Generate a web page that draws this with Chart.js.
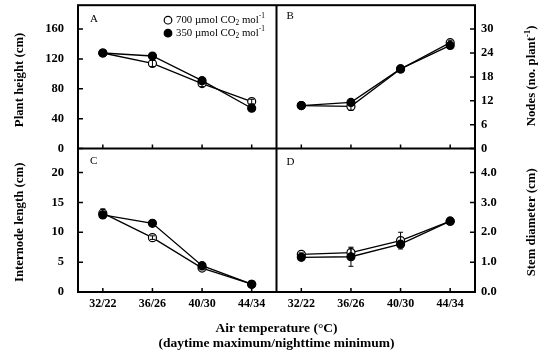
<!DOCTYPE html>
<html><head><meta charset="utf-8">
<script src="https://cdn.jsdelivr.net/npm/chart.js@4"></script>
<style>html,body{margin:0;padding:0;background:#fff}canvas{display:block}</style>
</head><body>
<canvas id="c" width="548" height="356" style="width:548px;height:356px"></canvas>
<script>
// ---- data ----
const categories = ['32/22', '36/26', '40/30', '44/34'];
const heightOpen = [128, 114, 87, 63];
const heightFilled = [128, 124, 91, 54];
const heightErrOpen = [3, 4, 4, 3];
const heightErrFilled = [3, 3, 3, 3];
const nodesOpen = [10.8, 10.6, 20.0, 26.6];
const nodesFilled = [10.8, 11.6, 20.0, 25.9];
const nodesErrOpen = [0.6, 1.0, 0.6, 0.6];
const nodesErrFilled = [0.5, 0.5, 0.5, 0.5];
const internodeOpen = [13.2, 9.1, 4.0, 1.3];
const internodeFilled = [12.9, 11.5, 4.4, 1.3];
const internodeErrOpen = [0.7, 0.3, 0.3, 0.2];
const internodeErrFilled = [0.6, 0.3, 0.3, 0.2];
const diamOpen = [1.26, 1.32, 1.72, 2.37];
const diamFilled = [1.16, 1.18, 1.60, 2.37];
const diamErrOpen = [0.05, 0.15, 0.28, 0.05];
const diamErrFilled = [0.05, 0.32, 0.08, 0.05];
const ticksHeight = [0, 40, 80, 120, 160];
const ticksNodes = [0, 6, 12, 18, 24, 30];
const ticksInternode = [0, 5, 10, 15, 20];
const ticksDiam = [0, 1, 2, 3, 4];
const seriesLabels = ['700 \u00B5mol CO2 mol-1', '350 \u00B5mol CO2 mol-1'];
const panelLetters = ['A', 'B', 'C', 'D'];
const titleHeight = 'Plant height (cm)';
const titleInternode = 'Internode length (cm)';
const titleDiam = 'Stem diameter (cm)';
const titleNodes = 'Nodes (no. plant';
const xTitle1 = 'Air temperature (\u00B0C)';
const xTitle2 = '(daytime maximum/nighttime minimum)';

const SERIF = '"Liberation Serif","Times New Roman",serif';

function ds(label, data, errors, x, y, filled) {
  return {
    label, data, errors, xAxisID: x, yAxisID: y,
    borderColor: '#000', borderWidth: 1.3,
    backgroundColor: filled ? '#000' : '#fff',
    pointBackgroundColor: filled ? '#000' : '#fff',
    pointBorderColor: '#000', pointBorderWidth: 1.2,
    pointRadius: 4, pointHoverRadius: 4, tension: 0, fill: false
  };
}

function fixTicks(arr) {
  return function (scale) { scale.ticks = arr.map(v => ({ value: v })); };
}
function zeroPad(s) {
  s.paddingTop = 0; s.paddingBottom = 0; s.paddingLeft = 0; s.paddingRight = 0;
}

function yScale(pos, stack, weight, min, max, arr, fmt, width) {
  return {
    type: 'linear', position: pos, stack: stack, stackWeight: 1, weight: weight,
    min: min, max: max,
    grid: { display: false, drawTicks: false },
    border: { display: false },
    afterBuildTicks: fixTicks(arr),
    afterFit: s => { s.width = width; zeroPad(s); },
    ticks: {
      autoSkip: false, padding: pos === 'left' ? 14 : 6, color: '#000',
      font: { family: SERIF, size: 12.5, weight: 'bold' },
      callback: v => fmt(v)
    }
  };
}

function xScale(weight) {
  return {
    type: 'category', position: 'bottom', stack: 'B', stackWeight: 1, weight: weight,
    offset: true, labels: categories,
    grid: { display: false, drawTicks: false },
    border: { display: false },
    afterFit: s => { s.height = 64; zeroPad(s); },
    ticks: {
      autoSkip: false, maxRotation: 0, padding: 5, color: '#000',
      font: { family: SERIF, size: 12, weight: 'bold' }
    }
  };
}

function richWidth(ctx, parts, size, bold) {
  let w = 0;
  for (const p of parts) {
    const sz = p.s ? size * 0.68 : size;
    ctx.font = (bold ? 'bold ' : '') + sz + 'px ' + SERIF;
    w += ctx.measureText(p.t).width;
  }
  return w;
}
function drawRich(ctx, parts, x, y, size, bold, align) {
  const w = richWidth(ctx, parts, size, bold);
  let cx = align === 'center' ? x - w / 2 : x;
  ctx.textBaseline = 'middle';
  ctx.textAlign = 'left';
  ctx.fillStyle = '#000';
  for (const p of parts) {
    const sz = p.s ? size * 0.68 : size;
    ctx.font = (bold ? 'bold ' : '') + sz + 'px ' + SERIF;
    const dy = p.s === 'sub' ? size * 0.3 : p.s === 'sup' ? -size * 0.35 : 0;
    ctx.fillText(p.t, cx, y + dy);
    cx += ctx.measureText(p.t).width;
  }
}
function seriesParts(label) {
  const m = label.match(/^(.*CO)2( mol)(-1)$/);
  return [{ t: m[1] }, { t: '2', s: 'sub' }, { t: m[2] }, { t: m[3], s: 'sup' }];
}

const decor = {
  id: 'decor',
  afterDatasetsDraw(chart) {
    const { ctx, chartArea: ca, scales } = chart;
    ctx.save();
    ctx.strokeStyle = '#000';
    ctx.lineWidth = 1;
    chart.data.datasets.forEach(d => {
      const xs = scales[d.xAxisID], ys = scales[d.yAxisID];
      d.data.forEach((v, j) => {
        const e = d.errors[j];
        if (!e) return;
        const x = xs.getPixelForValue(j);
        const y1 = ys.getPixelForValue(v + e), y2 = ys.getPixelForValue(v - e);
        ctx.beginPath();
        ctx.moveTo(x, y1); ctx.lineTo(x, y2);
        ctx.moveTo(x - 2.5, y1); ctx.lineTo(x + 2.5, y1);
        ctx.moveTo(x - 2.5, y2); ctx.lineTo(x + 2.5, y2);
        ctx.stroke();
      });
    });
    const midX = scales.xL.right, midY = scales.yA.bottom;
    ctx.lineWidth = 2;
    ctx.strokeRect(ca.left, ca.top, ca.right - ca.left, ca.bottom - ca.top);
    ctx.beginPath();
    ctx.moveTo(midX, ca.top); ctx.lineTo(midX, ca.bottom);
    ctx.moveTo(ca.left, midY); ctx.lineTo(ca.right, midY);
    ctx.stroke();
    ctx.lineWidth = 1.5;
    ctx.beginPath();
    ['yA', 'yC'].forEach(id => {
      scales[id].ticks.forEach(t => {
        const y = scales[id].getPixelForValue(t.value);
        ctx.moveTo(ca.left, y); ctx.lineTo(ca.left + 5, y);
      });
    });
    ['yB', 'yD'].forEach(id => {
      scales[id].ticks.forEach(t => {
        const y = scales[id].getPixelForValue(t.value);
        ctx.moveTo(ca.right - 5, y); ctx.lineTo(ca.right, y);
      });
    });
    ['xL', 'xR'].forEach(id => {
      categories.forEach((c, j) => {
        const x = scales[id].getPixelForValue(j);
        ctx.moveTo(x, ca.bottom); ctx.lineTo(x, ca.bottom - 4);
        ctx.moveTo(x, midY); ctx.lineTo(x, midY - 4);
      });
    });
    ctx.stroke();
    ctx.restore();
  },
  afterDraw(chart) {
    const { ctx, chartArea: ca, scales } = chart;
    ctx.save();
    ctx.fillStyle = '#000';
    ctx.font = '11px ' + SERIF;
    ctx.textBaseline = 'middle';
    ctx.textAlign = 'left';
    ctx.fillText(panelLetters[0], scales.xL.left + 12, scales.yA.top + 14);
    ctx.fillText(panelLetters[1], scales.xR.left + 10, scales.yB.top + 11);
    ctx.fillText(panelLetters[2], scales.xL.left + 12, scales.yC.top + 13);
    ctx.fillText(panelLetters[3], scales.xR.left + 10, scales.yD.top + 14);
    const lx = scales.xL.left + 90;
    [0, 1].forEach(i => {
      const ly = ca.top + 15 + i * 13;
      ctx.beginPath();
      ctx.arc(lx, ly, 3.8, 0, Math.PI * 2);
      ctx.fillStyle = i === 0 ? '#fff' : '#000';
      ctx.fill();
      ctx.lineWidth = 1.2; ctx.strokeStyle = '#000';
      ctx.stroke();
      drawRich(ctx, seriesParts(seriesLabels[i]), lx + 8, ly, 10.8, false, 'left');
    });
    const rot = (parts, cx, cy) => {
      ctx.save(); ctx.translate(cx, cy); ctx.rotate(-Math.PI / 2);
      drawRich(ctx, parts, 0, 0, 12.8, true, 'center');
      ctx.restore();
    };
    rot([{ t: titleHeight }], 20, (scales.yA.top + scales.yA.bottom) / 2 + 3);
    rot([{ t: titleInternode }], 20, (scales.yC.top + scales.yC.bottom) / 2 + 2);
    rot([{ t: titleNodes }, { t: '-1', s: 'sup' }, { t: ')' }], 532, (scales.yB.top + scales.yB.bottom) / 2 - 1);
    rot([{ t: titleDiam }], 532, (scales.yD.top + scales.yD.bottom) / 2 + 2);
    const cx = (ca.left + ca.right) / 2;
    drawRich(ctx, [{ t: xTitle1 }], cx, ca.bottom + 37, 13.5, true, 'center');
    drawRich(ctx, [{ t: xTitle2 }], cx, ca.bottom + 52, 13.5, true, 'center');
    ctx.restore();
  }
};

new Chart(document.getElementById('c'), {
  type: 'line',
  data: {
    labels: categories,
    datasets: [
      ds(seriesLabels[1], heightFilled, heightErrFilled, 'xL', 'yA', true),
      ds(seriesLabels[0], heightOpen, heightErrOpen, 'xL', 'yA', false),
      ds(seriesLabels[1], nodesFilled, nodesErrFilled, 'xR', 'yB', true),
      ds(seriesLabels[0], nodesOpen, nodesErrOpen, 'xR', 'yB', false),
      ds(seriesLabels[1], internodeFilled, internodeErrFilled, 'xL', 'yC', true),
      ds(seriesLabels[0], internodeOpen, internodeErrOpen, 'xL', 'yC', false),
      ds(seriesLabels[1], diamFilled, diamErrFilled, 'xR', 'yD', true),
      ds(seriesLabels[0], diamOpen, diamErrOpen, 'xR', 'yD', false)
    ]
  },
  options: {
    responsive: false,
    animation: false,
    devicePixelRatio: 1,
    layout: { padding: { top: 5, left: 0, right: 0, bottom: 0 } },
    plugins: { legend: { display: false }, tooltip: { enabled: false }, title: { display: false } },
    scales: {
      yA: yScale('left', 'L', 2, 0, 192, ticksHeight, v => String(v), 78),
      yC: yScale('left', 'L', 1, 0, 24, ticksInternode, v => String(v), 78),
      yB: yScale('right', 'R', 1, 0, 36, ticksNodes, v => String(v), 73),
      yD: yScale('right', 'R', 2, 0, 4.8, ticksDiam, v => v.toFixed(1), 73),
      xL: xScale(1),
      xR: xScale(2)
    }
  },
  plugins: [decor]
});
</script>
</body></html>
